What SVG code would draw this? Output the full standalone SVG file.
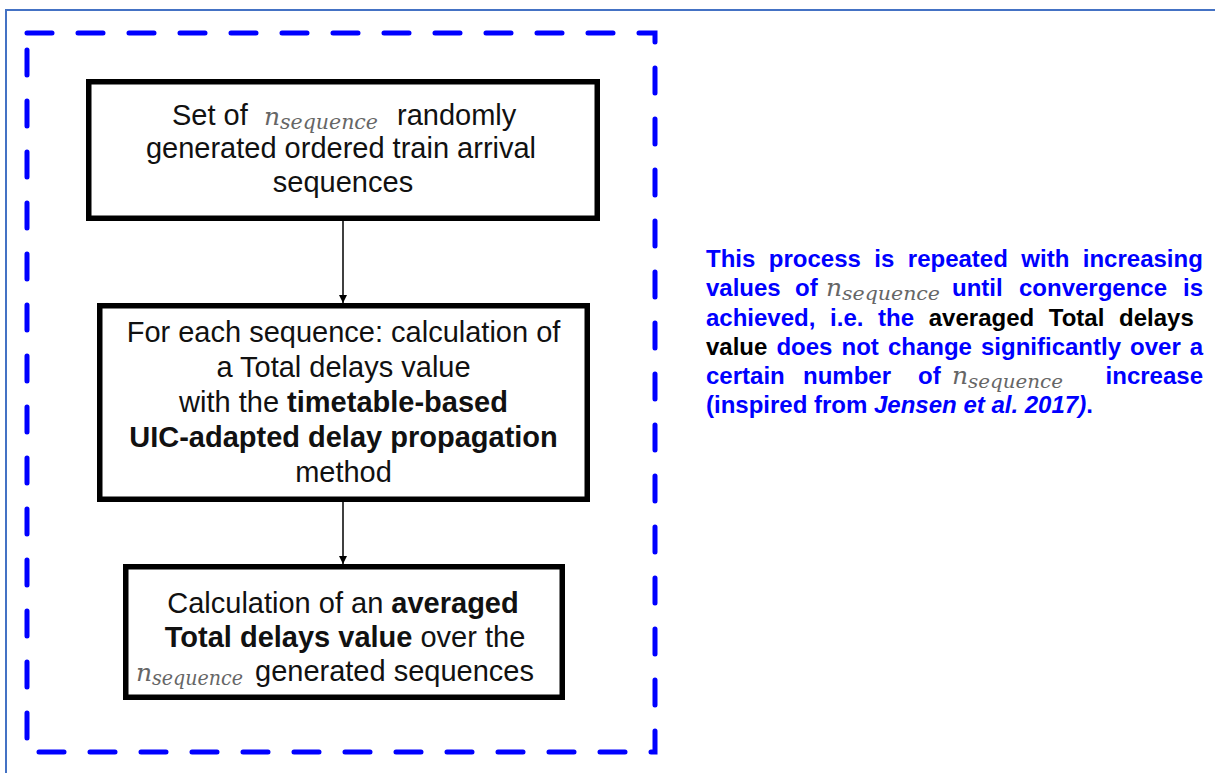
<svg xmlns="http://www.w3.org/2000/svg" width="1215" height="773" viewBox="0 0 1215 773">
  <defs>
    <marker id="arrowhead" markerWidth="8" markerHeight="10" refX="8" refY="5" orient="auto" markerUnits="userSpaceOnUse">
      <path d="M0,1 L8,5 L0,9 Z" fill="#000"/>
    </marker>
    <style>
      .frame { fill: none; stroke: #4472C4; stroke-width: 2; }
      .loop { fill: none; stroke: #0000FF; stroke-width: 5; stroke-dasharray: 25 26; stroke-linecap: round; }
      .box { fill: #fff; stroke: #000; stroke-width: 5.5; }
      .edge { stroke: #000; stroke-width: 1.5; fill: none; marker-end: url(#arrowhead); }
      .t { font-family: "Liberation Sans", Arial, sans-serif; font-size: 29px; fill: #111; }
      .b { font-weight: bold; }
      .m { font-family: "DejaVu Serif", "Liberation Serif", serif; font-style: italic; fill: #666; }
      .note { font-family: "Liberation Sans", Arial, sans-serif; font-size: 24px; font-weight: bold; fill: #0000FF; }
      .k { fill: #000; }
    </style>
  </defs>

  <rect width="1215" height="773" fill="#fff"/>

  <!-- page frame -->
  <path class="frame" d="M6,773 V10 H1215"/>

  <!-- repetition loop outline -->
  <path id="loop" class="loop" d="M27,33 H655 V752 H27 Z"/>

  <!-- connectors -->
  <g id="connectors">
    <line class="edge" x1="343" y1="221" x2="343" y2="303"/>
    <line class="edge" x1="343" y1="502" x2="343" y2="564"/>
  </g>

  <!-- step 1 -->
  <g id="node-sequences">
    <rect class="box" x="88.75" y="81.75" width="508.5" height="136.5"/>
    <text class="t" x="172" y="125">Set of</text>
    <text class="m" x="264" y="125" font-size="25">n</text>
    <text class="m" x="280" y="129" font-size="20" textLength="98" lengthAdjust="spacingAndGlyphs">sequence</text>
    <text class="t" x="397" y="125">randomly</text>
    <text class="t" x="341" y="158" text-anchor="middle">generated ordered train arrival</text>
    <text class="t" x="343" y="192" text-anchor="middle">sequences</text>
  </g>

  <!-- step 2 -->
  <g id="node-calculation">
    <rect class="box" x="99.75" y="305.75" width="487.5" height="193.5"/>
    <text class="t" x="343.5" y="342" text-anchor="middle">For each sequence: calculation of</text>
    <text class="t" x="343.5" y="377" text-anchor="middle">a Total delays value</text>
    <text class="t" x="343.5" y="412" text-anchor="middle">with the <tspan class="b">timetable-based</tspan></text>
    <text class="t b" x="343.5" y="447" text-anchor="middle">UIC-adapted delay propagation</text>
    <text class="t" x="343.5" y="482" text-anchor="middle">method</text>
  </g>

  <!-- step 3 -->
  <g id="node-average">
    <rect class="box" x="125.75" y="566.75" width="436.5" height="130.5"/>
    <text class="t" x="343" y="613" text-anchor="middle">Calculation of an <tspan class="b">averaged</tspan></text>
    <text class="t" x="345" y="647" text-anchor="middle"><tspan class="b">Total delays value</tspan> over the</text>
    <text class="m" x="136" y="681" font-size="25">n</text>
    <text class="m" x="152" y="685" font-size="20" textLength="91" lengthAdjust="spacingAndGlyphs">sequence</text>
    <text class="t" x="255" y="681">generated sequences</text>
  </g>

  <!-- convergence note -->
  <g id="note">
    <text class="note" x="706" y="267" word-spacing="6.8">This process is repeated with increasing</text>
    <text class="note" y="296"><tspan x="706">values</tspan><tspan x="795">of</tspan><tspan x="952">until</tspan><tspan x="1019">convergence</tspan><tspan x="1183">is</tspan></text>
    <text class="m" x="826" y="296" font-size="25">n</text>
    <text class="m" x="842" y="300" font-size="19" textLength="98" lengthAdjust="spacingAndGlyphs">sequence</text>
    <text class="note" x="706" y="326" word-spacing="8">achieved, i.e. the <tspan class="k">averaged Total delays</tspan></text>
    <text class="note" x="706" y="355" word-spacing="2.4"><tspan class="k">value</tspan> does not change significantly over a</text>
    <text class="note" y="384"><tspan x="706">certain</tspan><tspan x="803">number</tspan><tspan x="918">of</tspan></text>
    <text class="m" x="952" y="384" font-size="25">n</text>
    <text class="m" x="968" y="388" font-size="19" textLength="95" lengthAdjust="spacingAndGlyphs">sequence</text>
    <text class="note" x="1203" y="384" text-anchor="end">increase</text>
    <text class="note" x="706" y="413">(inspired from <tspan font-style="italic">Jensen et al. 2017)</tspan>.</text>
  </g>
</svg>
